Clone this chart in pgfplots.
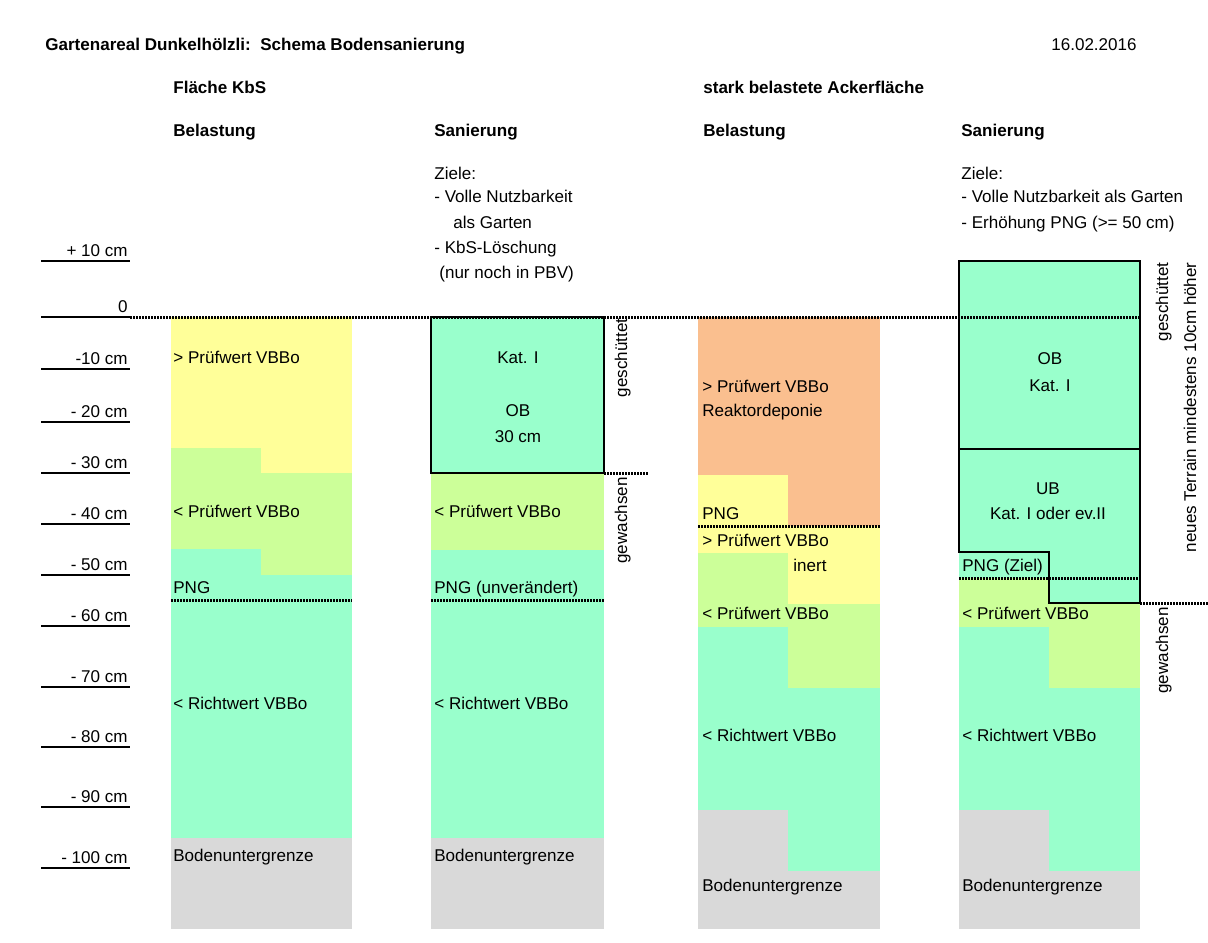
\documentclass[border=0pt]{standalone}
\usepackage{fontspec}
\setmainfont{Liberation Sans}
\usepackage{pgfplots}
\pgfplotsset{compat=1.18}

\definecolor{cyanG}{HTML}{99FFCC}
\definecolor{yel}{HTML}{FFFF99}
\definecolor{lgreen}{HTML}{CCFF99}
\definecolor{peach}{HTML}{FABF8F}
\definecolor{grayB}{HTML}{D9D9D9}

% one filled block: colour, x1, x2, y1, y2 (reference pixels)
\newcommand{\rect}[5]{\addplot[fill=#1, draw=none, forget plot] coordinates {(#2,#4) (#3,#4) (#3,#5) (#2,#5)} -- cycle;}
\newcommand{\tickline}[3]{\addplot[black, line width=0.4mm, forget plot] coordinates {(#1,#3) (#2,#3)};}
\newcommand{\dline}[3]{\addplot[black, line width=0.6mm, dash pattern=on 0.35mm off 0.25mm, forget plot] coordinates {(#1,#3) (#2,#3)};}
\tikzset{L/.style={inner sep=0pt, anchor=base west}, R/.style={inner sep=0pt, anchor=base east},
  C/.style={inner sep=0pt, anchor=base}, V/.style={inner sep=0pt, anchor=base east, rotate=90}}

\begin{document}
\fontsize{9.7pt}{11pt}\selectfont
\begin{tikzpicture}
\begin{axis}[
  name=ax,
  width=241.6mm, height=188.4mm, scale only axis,
  xmin=0, xmax=1208, ymin=0, ymax=942, y dir=reverse,
  hide axis, clip=false,
]
% --- Fläche KbS, Belastung
\rect{yel}{171}{352}{317}{448}
\rect{yel}{261}{352}{448}{473}
\rect{lgreen}{171}{261}{448}{549}
\rect{lgreen}{261}{352}{473}{575}
\rect{cyanG}{171}{261}{549}{838}
\rect{cyanG}{261}{352}{575}{838}
\rect{grayB}{171}{352}{838}{929}
% --- Fläche KbS, Sanierung
\rect{cyanG}{431}{604}{317}{473}
\rect{lgreen}{431}{604}{473}{550}
\rect{cyanG}{431}{604}{550}{838}
\rect{grayB}{431}{604}{838}{929}
% --- Ackerfläche, Belastung
\rect{peach}{698}{880}{317}{475}
\rect{peach}{788}{880}{475}{526}
\rect{yel}{698}{788}{475}{526}
\rect{yel}{698}{880}{526}{553}
\rect{yel}{788}{880}{553}{604}
\rect{lgreen}{698}{788}{553}{627}
\rect{lgreen}{788}{880}{604}{688}
\rect{cyanG}{698}{788}{627}{810}
\rect{cyanG}{788}{880}{688}{871}
\rect{grayB}{698}{788}{810}{929}
\rect{grayB}{788}{880}{871}{929}
% --- Ackerfläche, Sanierung
\rect{cyanG}{959}{1140}{261}{552}
\rect{cyanG}{1049}{1140}{552}{603}
\rect{cyanG}{959}{1049}{552}{578}
\rect{lgreen}{959}{1049}{578}{627}
\rect{lgreen}{1049}{1140}{603}{688}
\rect{cyanG}{959}{1049}{627}{810}
\rect{cyanG}{1049}{1140}{688}{871}
\rect{grayB}{959}{1049}{810}{929}
\rect{grayB}{1049}{1140}{871}{929}

% borders
\addplot[black, line width=0.4mm, forget plot] coordinates {(431,317) (604,317) (604,473) (431,473)} -- cycle;
\addplot[black, line width=0.4mm, forget plot] coordinates {(959,261) (1140,261) (1140,449) (959,449)} -- cycle;
\addplot[black, line width=0.4mm, forget plot] coordinates {(959,449) (1140,449) (1140,603) (1049,603) (1049,552) (959,552)} -- cycle;

% dotted lines
\dline{130}{1140}{317}
\dline{171}{352}{600}
\dline{431}{604}{600}
\dline{604}{648}{473}
\dline{698}{880}{526}
\dline{959}{1140}{578}
\dline{1140}{1208}{603}

% depth scale
\tickline{41}{130}{261}
\tickline{41}{130}{317}
\tickline{41}{130}{369}
\tickline{41}{130}{422}
\tickline{41}{130}{473}
\tickline{41}{130}{524}
\tickline{41}{130}{575}
\tickline{41}{130}{626}
\tickline{41}{130}{687}
\tickline{41}{130}{747}
\tickline{41}{130}{807}
\tickline{41}{130}{868}
\node[R] at (128,256) {+ 10 cm};
\node[R] at (128,312) {0};
\node[R] at (128,364) {-10 cm};
\node[R] at (128,417) {- 20 cm};
\node[R] at (128,468) {- 30 cm};
\node[R] at (128,519) {- 40 cm};
\node[R] at (128,570) {- 50 cm};
\node[R] at (128,621) {- 60 cm};
\node[R] at (128,682) {- 70 cm};
\node[R] at (128,742) {- 80 cm};
\node[R] at (128,802) {- 90 cm};
\node[R] at (128,863) {- 100 cm};

% headers
\node[L, font=\bfseries] at (45,51) {Gartenareal Dunkelhölzli:\ \ Schema Bodensanierung};
\node[R] at (1137,51) {16.02.2016};
\node[L, font=\bfseries] at (173,94) {Fläche KbS};
\node[L, font=\bfseries] at (703,94) {stark belastete Ackerfläche};
\node[L, font=\bfseries] at (173,137) {Belastung};
\node[L, font=\bfseries] at (434,137) {Sanierung};
\node[L, font=\bfseries] at (703,137) {Belastung};
\node[L, font=\bfseries] at (961,137) {Sanierung};
\node[L] at (434,180) {Ziele:};
\node[L] at (434,203) {- Volle Nutzbarkeit};
\node[L] at (453,228) {als Garten};
\node[L] at (434,253) {- KbS-Löschung};
\node[L] at (439,278) {(nur noch in PBV)};
\node[L] at (961,180) {Ziele:};
\node[L] at (961,203) {- Volle Nutzbarkeit als Garten};
\node[L] at (961,228) {- Erhöhung PNG (>= 50 cm)};

% column 1 labels
\node[L] at (173,363) {> Prüfwert VBBo};
\node[L] at (173,517) {< Prüfwert VBBo};
\node[L] at (173,593) {PNG};
\node[L] at (173,709) {< Richtwert VBBo};
\node[L] at (173,861) {Bodenuntergrenze};
% column 2 labels
\node[C] at (518,363) {Kat. I};
\node[C] at (518,416) {OB};
\node[C] at (518,442) {30 cm};
\node[L] at (434,517) {< Prüfwert VBBo};
\node[L] at (434,593) {PNG (unverändert)};
\node[L] at (434,709) {< Richtwert VBBo};
\node[L] at (434,861) {Bodenuntergrenze};
\node[V] at (627,318) {geschüttet};
\node[V] at (627,477) {gewachsen};
% column 3 labels
\node[L] at (702,392) {> Prüfwert VBBo};
\node[L] at (702,416) {Reaktordeponie};
\node[L] at (702,519) {PNG};
\node[L] at (702,546) {> Prüfwert VBBo};
\node[L] at (793,571) {inert};
\node[L] at (702,619) {< Prüfwert VBBo};
\node[L] at (702,741) {< Richtwert VBBo};
\node[L] at (702,891) {Bodenuntergrenze};
% column 4 labels
\node[C] at (1050,364) {OB};
\node[C] at (1050,391) {Kat. I};
\node[C] at (1048,494) {UB};
\node[C] at (1048,519) {Kat. I oder ev.II};
\node[L] at (962,571) {PNG (Ziel)};
\node[L] at (962,619) {< Prüfwert VBBo};
\node[L] at (962,741) {< Richtwert VBBo};
\node[L] at (962,891) {Bodenuntergrenze};
\node[V] at (1168,262) {geschüttet};
\node[V] at (1196,262) {neues Terrain mindestens 10cm höher};
\node[V] at (1168,607) {gewachsen};
\end{axis}
\pgfresetboundingbox
\useasboundingbox (ax.south west) rectangle (ax.north east);
\end{tikzpicture}
\end{document}
